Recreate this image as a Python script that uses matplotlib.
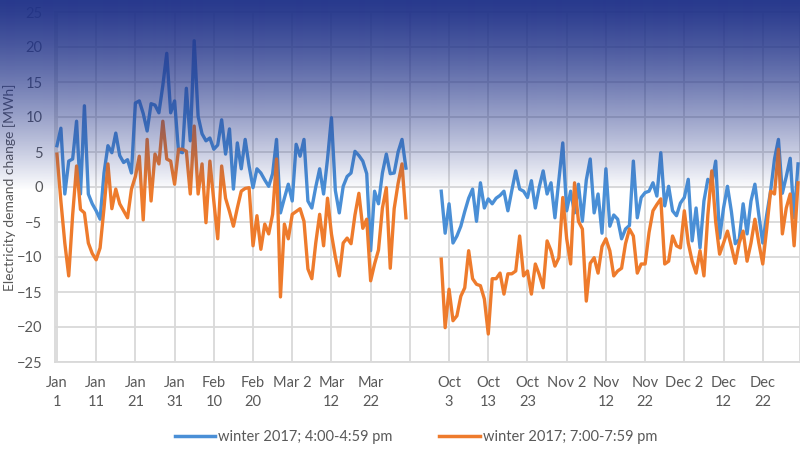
import matplotlib
matplotlib.use('Agg')
import matplotlib.pyplot as plt
from matplotlib.lines import Line2D
import numpy as np

# category labels, one every 10 days (the blank one sits in the Apr-Sep gap)
tick_labels = ['Jan\n1', 'Jan\n11', 'Jan\n21', 'Jan\n31', 'Feb\n10', 'Feb\n20',
               'Mar 2', 'Mar\n12', 'Mar\n22', '',
               'Oct\n3', 'Oct\n13', 'Oct\n23', 'Nov 2', 'Nov\n12', 'Nov\n22',
               'Dec 2', 'Dec\n12', 'Dec\n22']

# Jan 1 - Mar 31 (daily)
blue_jan_mar = [5.9, 8.4, -1.0, 3.7, 4.0, 9.4, -1.0, 11.6, -1.0, -2.4,
                -3.4, -4.6, 2.0, 5.9, 4.9, 7.7, 4.5, 3.5, 3.9, 2.0,
                12.0, 12.3, 10.5, 8.0, 11.9, 11.7, 10.6, 14.5, 19.1, 10.6,
                12.3, 5.1, 4.9, 14.1, 6.6, 20.9, 10.1, 7.6, 6.6, 7.0,
                5.4, 6.0, 9.6, 4.7, 8.3, -0.3, 6.3, 2.6, 6.8, 3.0,
                -0.1, 2.6, 2.0, 1.0, 0.1, 1.9, 6.8, -3.7, -1.6, 0.4,
                -2.0, 6.1, 4.4, 6.8, -2.0, -3.0, 0.0, 2.6, -1.0, 4.0,
                9.9, -0.5, -3.7, 0.1, 1.5, 2.0, 5.1, 4.5, 3.7, 1.9,
                -9.1, -0.6, -2.4, 2.0, 4.7, 1.9, 2.0, 5.0, 6.8, 2.7]
orange_jan_mar = [4.7, -2.0, -8.0, -12.7, -4.0, 3.0, -3.2, -3.7, -8.0, -9.5,
                  -10.4, -8.7, -3.0, 3.3, -3.1, -0.3, -2.4, -3.4, -4.4, -0.3,
                  1.5, 4.4, -4.7, 6.8, -2.0, 4.7, 3.3, 9.4, 4.0, 3.7,
                  0.4, 5.4, 5.4, 5.1, -1.0, 8.7, -1.0, 3.3, -5.1, 3.7,
                  -2.0, -7.4, 3.0, -1.6, -3.5, -5.6, -3.0, -0.6, -0.2, -0.1,
                  -8.4, -4.1, -8.9, -5.3, -6.7, -3.9, 4.0, -15.7, -5.3, -7.4,
                  -3.9, -3.5, -3.1, -4.9, -11.7, -13.1, -8.0, -3.9, -8.4, -1.6,
                  -6.7, -10.0, -12.7, -8.0, -7.3, -8.1, -4.0, -0.9, -5.9, -4.6,
                  -13.4, -11.0, -9.0, -3.0, -0.1, -11.6, -3.1, 0.5, 3.3, -4.4]

# Oct 1 - Dec 31 (daily)
blue_oct_dec = [-0.6, -6.6, -2.4, -8.0, -7.0, -5.6, -3.5, -1.6, -0.3, -4.9,
                0.6, -3.0, -1.7, -2.4, -1.6, -1.2, -0.6, -3.4, -0.5, 2.3,
                -0.3, -0.6, -1.5, 0.9, -3.0, 0.0, 2.3, -1.0, 0.6, -4.4,
                1.0, 6.3, -3.4, -0.6, -3.7, 0.4, -4.9, 1.0, 4.0, -3.7,
                -1.0, -6.6, 2.6, -5.6, -4.0, -4.6, -7.4, -6.0, -5.5, 3.7,
                -4.4, -1.5, -0.8, -0.6, 0.6, -1.3, 4.9, -2.7, 0.1, -3.4,
                -4.1, -2.3, -1.5, 1.1, -7.7, -3.0, -8.7, -2.0, 1.1, 0.5,
                3.7, -7.3, -3.0, 0.1, -3.5, -8.1, -7.5, -2.4, -6.7, -2.0,
                0.4, -4.0, -8.0, -4.0, -0.6, 4.0, 6.8, -0.9, 1.5, 4.1,
                -4.4, 3.3]
orange_oct_dec = [-10.3, -20.1, -14.6, -19.1, -18.4, -15.6, -14.4, -9.1, -13.1, -13.9,
                  -14.1, -16.0, -21.0, -13.1, -13.1, -12.3, -15.3, -12.4, -12.4, -12.0,
                  -7.0, -12.7, -12.0, -15.3, -11.0, -12.5, -14.4, -7.7, -9.1, -11.3,
                  -10.1, -1.5, -7.4, -11.0, 0.6, -4.9, -6.0, -16.3, -10.9, -10.1,
                  -12.3, -8.5, -7.4, -9.1, -12.7, -12.0, -11.6, -8.1, -6.0, -7.0,
                  -12.3, -11.0, -11.0, -6.5, -3.4, -2.5, -1.7, -11.0, -10.6, -7.0,
                  -8.4, -8.7, -3.4, -8.0, -10.6, -12.3, -9.1, -12.7, -4.0, 2.3,
                  -5.0, -9.6, -8.0, -6.3, -8.5, -10.9, -8.0, -6.3, -10.6, -8.0,
                  -4.6, -8.0, -11.0, -6.0, -0.6, -1.0, 5.4, -6.7, -3.0, -1.0,
                  -8.4, 0.6]

label_blue = 'winter 2017; 4:00-4:59 pm'
label_orange = 'winter 2017; 7:00-7:59 pm'

BLUE = '#4a8fd6'
ORANGE = '#ee7b2c'
GRID = '#d9d9d9'
TXT = '#595959'
GAP = 8  # empty categories between Mar 31 and Oct 1

plt.rcParams['font.family'] = ['Lato', 'DejaVu Sans']

x1 = np.arange(len(blue_jan_mar))
x2 = np.arange(len(blue_oct_dec)) + len(blue_jan_mar) + GAP

fig = plt.figure(figsize=(8, 4.5), dpi=100)
ax = fig.add_axes([55 / 800, 1 - 362 / 450, 745 / 800, 350 / 450])

for xs, b, o in [(x1, blue_jan_mar, orange_jan_mar), (x2, blue_oct_dec, orange_oct_dec)]:
    ax.plot(xs, b, color=BLUE, lw=2.4, solid_joinstyle='round', zorder=3)
    ax.plot(xs, o, color=ORANGE, lw=2.4, solid_joinstyle='round', zorder=4)

ax.set_xlim(-0.5, 189.5)
ax.set_ylim(-25, 25)
ax.set_yticks(np.arange(-25, 26, 5))
ax.set_xticks(np.arange(0, 10 * len(tick_labels), 10))
ax.set_xticklabels(tick_labels, linespacing=1.45)
ax.grid(True, color=GRID, lw=1.3, zorder=0)
ax.set_axisbelow(True)
for s in ax.spines.values():
    s.set_color(GRID)
    s.set_linewidth(1.3)
ax.tick_params(length=0, colors=TXT, labelsize=10.5)
ax.tick_params(axis='x', pad=10)
ax.tick_params(axis='y', pad=9)
ax.set_ylabel('Electricity demand change [MWh]', color=TXT, fontsize=10)
ax.yaxis.set_label_coords(-0.053, 0.5)

handles = [Line2D([], [], color=BLUE, lw=2.5), Line2D([], [], color=ORANGE, lw=2.5)]
fig.legend(handles, [label_blue, label_orange], loc='center', bbox_to_anchor=(0.52, 0.029),
           ncol=2, frameon=False, fontsize=10.5, labelcolor=TXT, handlelength=2.8,
           handletextpad=0.2, columnspacing=3.2)

# blue fade at the top of the picture
rows = np.arange(450)
alpha = np.clip(1 - (rows / 190.0) ** 1.3, 0, 1) * 0.97
grad = np.zeros((450, 1, 4))
grad[..., 0] = 0.13
grad[..., 1] = 0.20
grad[..., 2] = 0.54
grad[:, 0, 3] = alpha
ov = fig.add_axes([0, 0, 1, 1], zorder=10)
ov.imshow(grad, extent=[0, 1, 0, 1], aspect='auto', interpolation='bilinear')
ov.axis('off')

fig.savefig('out.png', dpi=100)
